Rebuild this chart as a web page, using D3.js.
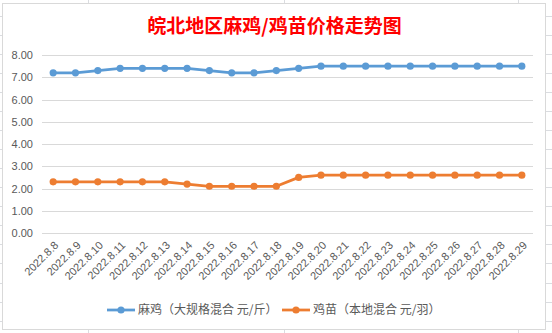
<!DOCTYPE html>
<html>
<head>
<meta charset="utf-8">
<script src="https://cdn.jsdelivr.net/npm/d3@7/dist/d3.min.js"></script>
<style>
  html, body { margin: 0; padding: 0; background: #fff; }
  svg { display: block; }
</style>
</head>
<body>
<svg id="chart" width="552" height="333"></svg>
<script>
// ---- data ----
const dates = ["2022.8.8","2022.8.9","2022.8.10","2022.8.11","2022.8.12","2022.8.13","2022.8.14","2022.8.15","2022.8.16","2022.8.17","2022.8.18","2022.8.19","2022.8.20","2022.8.21","2022.8.22","2022.8.23","2022.8.24","2022.8.25","2022.8.26","2022.8.27","2022.8.28","2022.8.29"];
const majiValues = [7.2,7.2,7.3,7.4,7.4,7.4,7.4,7.3,7.2,7.2,7.3,7.4,7.5,7.5,7.5,7.5,7.5,7.5,7.5,7.5,7.5,7.5];
const jimiaoValues = [2.3,2.3,2.3,2.3,2.3,2.3,2.2,2.1,2.1,2.1,2.1,2.5,2.6,2.6,2.6,2.6,2.6,2.6,2.6,2.6,2.6,2.6];
const yTicks = [0,1,2,3,4,5,6,7,8];
const seriesNames = ["麻鸡（大规格混合 元/斤）","鸡苗（本地混合 元/羽）"];
const titleText = "皖北地区麻鸡/鸡苗价格走势图";

const series = [
  { name: seriesNames[0], values: majiValues, color: "#5B9BD5" },
  { name: seriesNames[1], values: jimiaoValues, color: "#ED7D31" }
];

const svg = d3.select("#chart");
const W = 552, H = 333;

// ---- spreadsheet background grid ----
const bg = svg.append("g");
for (let k = 0; ; k++) {
  const y = Math.round(15.7 + 19.06 * k) + 0.5;
  if (y > H) break;
  bg.append("line").attr("x1", 0).attr("x2", W).attr("y1", y).attr("y2", y)
    .attr("stroke", "#DADCE0").attr("stroke-width", 1);
}
[88.5, 284.5, 518.5].forEach(x => {
  bg.append("line").attr("x1", x).attr("x2", x).attr("y1", 0).attr("y2", H)
    .attr("stroke", "#DADCE0").attr("stroke-width", 1);
});

// chart area
svg.append("rect").attr("x", 2.5).attr("y", 3.5).attr("width", 543).attr("height", 326)
  .attr("fill", "#fff").attr("stroke", "#D9D9D9").attr("stroke-width", 1);

// ---- scales ----
const x = d3.scaleBand().domain(dates).range([42, 533]);
const y = d3.scaleLinear().domain([0, 8]).range([233, 55]);

// gridlines
const grid = svg.append("g");
yTicks.forEach(t => {
  const yy = Math.round(y(t)) + 0.5;
  grid.append("line").attr("x1", 42).attr("x2", 533).attr("y1", yy).attr("y2", yy)
    .attr("stroke", "#D9D9D9").attr("stroke-width", 1);
});

// y axis labels
const yAxis = svg.append("g").attr("transform", "translate(42,0)")
  .call(d3.axisLeft(y).tickValues(yTicks).tickFormat(d3.format(".2f")).tickSize(0).tickPadding(9));
yAxis.select(".domain").remove();
yAxis.selectAll("text").attr("fill", "#595959")
  .style("font-family", "'Liberation Sans', Arial, sans-serif").style("font-size", "11px");

// x axis labels
const xAxis = svg.append("g").attr("transform", "translate(0,233)")
  .call(d3.axisBottom(x).tickSize(0).tickPadding(0));
xAxis.select(".domain").remove();
xAxis.selectAll("text")
  .attr("fill", "#595959")
  .style("font-family", "'Liberation Sans', Arial, sans-serif").style("font-size", "11px")
  .attr("text-anchor", "end")
  .attr("dy", "0")
  .attr("y", 0)
  .attr("transform", "translate(6,13) rotate(-45)");

// ---- lines ----
const cx = d => x(d) + x.bandwidth() / 2;
const line = d3.line().x((v, i) => cx(dates[i])).y(v => y(v));
series.forEach(s => {
  svg.append("path").datum(s.values).attr("d", line)
    .attr("fill", "none").attr("stroke", s.color).attr("stroke-width", 2.75)
    .attr("stroke-linejoin", "round");
  svg.append("g").selectAll("circle").data(s.values).join("circle")
    .attr("cx", (v, i) => cx(dates[i])).attr("cy", v => y(v)).attr("r", 3.6)
    .attr("fill", s.color);
});

// ---- title ----
svg.append("text").attr("x", 274.5).attr("y", 26).attr("dy", "0.36em")
  .attr("text-anchor", "middle").attr("fill", "#FF0000")
  .style("font-family", "'Noto Sans CJK SC', sans-serif").style("font-weight", "bold")
  .style("font-size", "19px").text(titleText);

// ---- legend ----
const legendX = [107, 282];
const legend = svg.append("g");
series.forEach((s, i) => {
  const g = legend.append("g").attr("transform", `translate(${legendX[i]},310)`);
  g.append("line").attr("x1", 0).attr("x2", 28).attr("y1", 0).attr("y2", 0)
    .attr("stroke", s.color).attr("stroke-width", 2.75);
  g.append("circle").attr("cx", 14).attr("cy", 0).attr("r", 3.6).attr("fill", s.color);
  g.append("text").attr("x", 31).attr("y", 0).attr("dy", "0.36em")
    .attr("fill", "#595959")
    .style("font-family", "'Noto Sans CJK SC', sans-serif").style("font-size", "12px")
    .text(s.name);
});
</script>
</body>
</html>
